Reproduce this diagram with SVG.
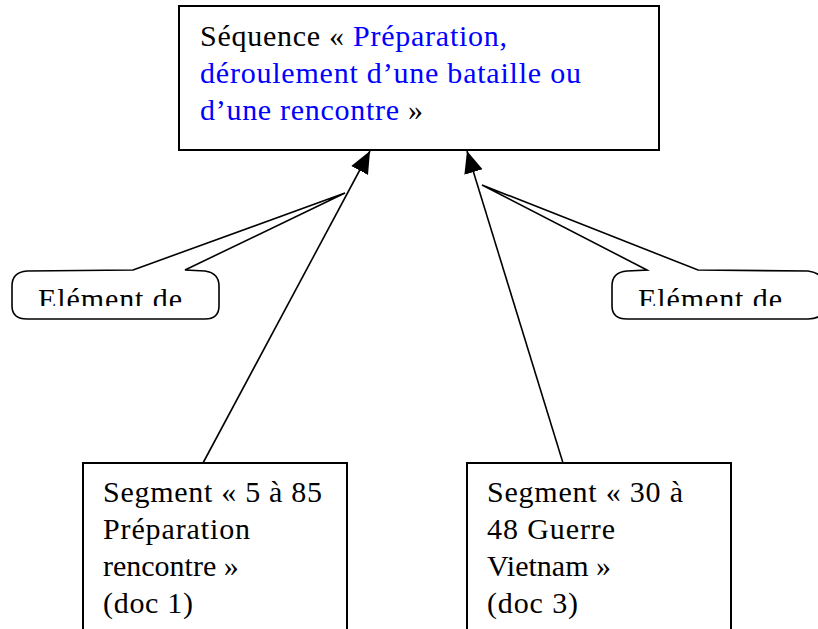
<svg xmlns="http://www.w3.org/2000/svg" width="818" height="629" viewBox="0 0 818 629">
<style>
.box{fill:#fff;stroke:#000;stroke-width:2}
.call{fill:#fff;stroke:#000;stroke-width:1.6;stroke-linejoin:miter}
.conn{stroke:#000;stroke-width:1.6;fill:none}
.blue{fill:#0000ff}
</style>
<defs>
<marker id="ah" markerUnits="userSpaceOnUse" markerWidth="24" markerHeight="20" refX="22" refY="9.5" orient="auto">
<path d="M0,0 L22,9.5 L0,19 Z" fill="#000"/>
</marker>
<clipPath id="clipL"><rect x="0" y="275" width="240" height="31"/></clipPath>
<clipPath id="clipR"><rect x="600" y="275" width="218" height="31"/></clipPath>
</defs>
<rect x="0" y="0" width="818" height="629" fill="#fff"/>

<g font-family="Liberation Serif, serif" font-size="30" fill="#000">
<g id="sequence">
<rect class="box" x="179" y="6" width="480" height="144"/>
<text x="200" y="46" textLength="307" lengthAdjust="spacing">Séquence « <tspan class="blue">Préparation,</tspan></text>
<text class="blue" x="200" y="83" textLength="381" lengthAdjust="spacing">déroulement d’une bataille ou</text>
<text x="200" y="120" textLength="223" lengthAdjust="spacing"><tspan class="blue">d’une rencontre </tspan>»</text>
</g>

<g id="callout-left">
<path class="call" d="M133,270 L345,193 L185,270 L205,271 Q219,273 219,286 L219,306 Q219,319 205,319 L27,319 Q12,319 12,306 L12,286 Q12,272 27,271 Z"/>
<text x="38" y="309" clip-path="url(#clipL)" textLength="144" lengthAdjust="spacing">Elément de</text>
</g>

<g id="callout-right">
<path class="call" d="M647,270 L482,185 L698,270 L808,271 Q824,273 824,286 L824,306 Q824,319 808,319 L627,319 Q612,319 612,306 L612,286 Q612,272 627,271 Z"/>
<text x="638" y="309" clip-path="url(#clipR)" textLength="144" lengthAdjust="spacing">Elément de</text>
</g>

<g id="segment-1">
<rect class="box" x="83" y="463" width="264" height="180"/>
<text x="103" y="502" textLength="219" lengthAdjust="spacing">Segment « 5 à 85</text>
<text x="103" y="539" textLength="147" lengthAdjust="spacing">Préparation</text>
<text x="103" y="576">rencontre »</text>
<text x="103" y="613" textLength="90" lengthAdjust="spacing">(doc 1)</text>
</g>

<g id="segment-3">
<rect class="box" x="467" y="463" width="264" height="180"/>
<text x="487" y="502" textLength="196" lengthAdjust="spacing">Segment « 30 à</text>
<text x="487" y="539" textLength="128" lengthAdjust="spacing">48 Guerre</text>
<text x="487" y="576">Vietnam »</text>
<text x="487" y="613" textLength="91" lengthAdjust="spacing">(doc 3)</text>
</g>
</g>

<g id="connectors">
<line class="conn" x1="203" y1="463" x2="370" y2="151" marker-end="url(#ah)"/>
<line class="conn" x1="563" y1="463" x2="467" y2="151" marker-end="url(#ah)"/>
</g>
</svg>
